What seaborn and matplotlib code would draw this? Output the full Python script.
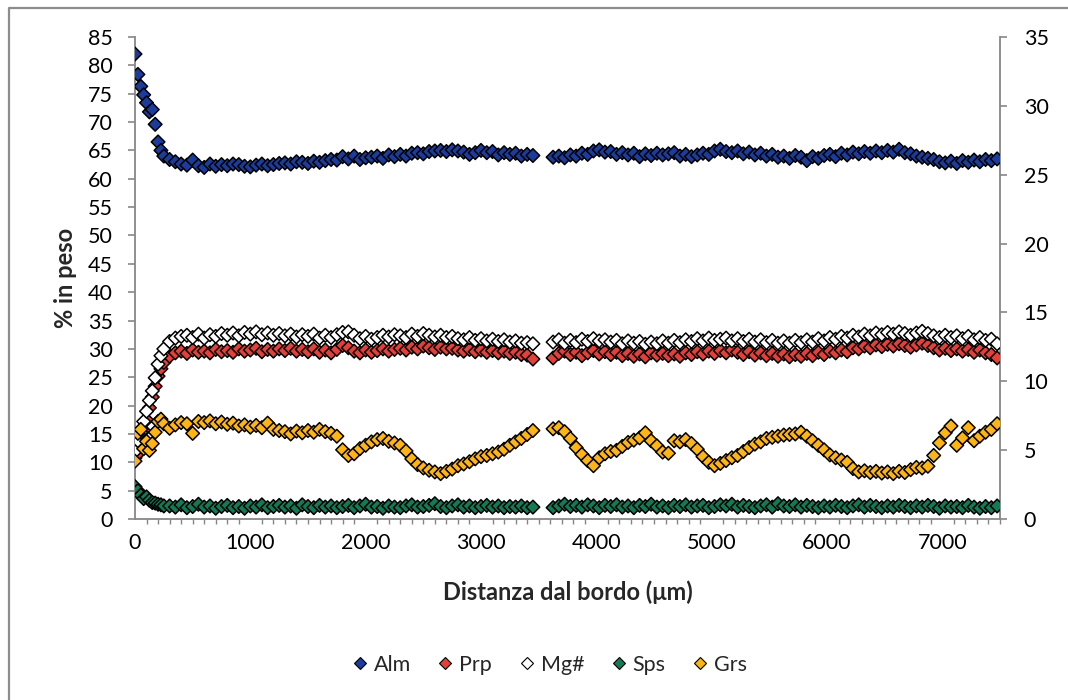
import numpy as np
import pandas as pd
import matplotlib
matplotlib.use("Agg")
import matplotlib.pyplot as plt
from matplotlib.lines import Line2D
from matplotlib.ticker import MultipleLocator
import seaborn as sns

# ---------------- data ----------------
# distance from rim (µm): first segment (dense at the start) and second segment
x_seg1 = np.concatenate([np.arange(0, 251, 25), np.arange(300, 3451, 50)])
x_seg2 = np.arange(3625, 7476, 50)

alm_seg1 = [82.0, 78.4, 76.3, 74.8, 73.4, 71.8, 72.2, 69.6, 66.5, 65.0, 64.0,
            63.4, 63.0, 62.6, 62.4, 63.3, 62.3, 62.0, 62.6, 62.2, 62.5,
            62.3, 62.6, 62.5, 62.2, 62.1, 62.4, 62.6, 62.3, 62.5, 62.7,
            62.8, 62.6, 63.0, 62.9, 62.7, 63.1, 62.9, 63.2, 63.4, 63.3,
            63.9, 63.5, 64.0, 63.4, 63.7, 63.8, 64.0, 63.6, 64.2, 63.9,
            64.3, 64.0, 64.5, 64.6, 64.4, 64.8, 64.9, 65.0, 64.8, 65.1,
            64.9, 64.7, 64.3, 64.6, 65.0, 64.6, 64.8, 64.2, 64.6, 64.3,
            64.5, 64.0, 64.3, 64.1]
alm_seg2 = [63.8, 64.0, 63.7, 64.2, 64.0, 64.5, 64.3, 64.9, 65.1, 64.7,
            64.8, 64.3, 64.6, 64.2, 64.5, 63.9, 64.4, 64.1, 64.5, 64.2,
            64.4, 64.6, 64.0, 64.3, 63.9, 64.2, 64.5, 64.3, 64.9, 65.2,
            64.8, 64.6, 64.9, 64.4, 64.7, 64.2, 64.5, 64.0, 64.3, 63.8,
            64.0, 63.6, 64.1, 63.8, 63.2, 63.9, 63.6, 64.1, 64.3, 63.9,
            64.5, 64.2, 64.7, 64.4, 64.8, 64.5, 64.9, 64.6, 65.0, 64.7,
            65.2, 64.6, 64.4, 64.0, 63.8, 63.6, 63.4, 63.0, 62.8, 63.1,
            62.7, 63.2, 62.9, 63.3, 63.0, 63.4, 63.2, 63.5]

prp_seg1 = [10.8, 11.5, 12.8, 15.6, 17.5, 19.6, 21.5, 23.4, 25.2, 26.5, 27.6,
            28.7, 29.3, 29.6, 29.2, 29.8, 29.4, 29.6, 29.3, 29.9, 29.5,
            29.7, 29.4, 30.0, 29.6, 29.8, 30.1, 29.5, 29.9, 29.6, 30.0,
            29.7, 30.1, 29.6, 29.9, 29.5, 30.0, 29.4, 29.8, 29.3, 29.9,
            30.6, 30.2, 29.6, 29.3, 29.8, 29.4, 29.7, 30.0, 29.6, 29.9,
            30.1, 29.8, 30.3, 30.0, 30.5, 30.2, 29.9, 30.3, 30.0, 30.1,
            29.8, 29.6, 29.9, 29.5, 29.8, 29.4, 29.7, 29.3, 29.6, 29.2,
            29.4, 29.0, 28.9, 28.2]
prp_seg2 = [28.4, 29.2, 29.6, 29.0, 29.4, 28.8, 29.3, 29.7, 29.1, 29.5,
            29.0, 29.4, 28.8, 29.2, 28.7, 29.1, 28.6, 29.3, 28.9, 29.2,
            28.8, 29.1, 28.7, 29.3, 29.0, 29.5, 29.1, 29.6, 29.2, 29.7,
            29.3, 29.8, 29.4, 29.0, 29.5, 28.9, 29.3, 28.8, 29.2, 28.7,
            29.1, 28.6, 29.0, 28.7, 29.2, 28.8, 29.4, 29.0, 29.6, 29.3,
            29.8, 29.5, 30.2, 30.0, 30.5, 30.2, 30.7, 30.4, 30.8, 30.5,
            30.9, 30.6, 30.3, 30.7, 31.0, 30.6, 30.2, 29.8, 30.1, 29.7,
            30.0, 29.6, 29.9, 29.4, 29.8, 29.3, 29.0, 28.4]

mg_seg1 = [11.9, 13.8, 15.3, 17.2, 19.0, 20.9, 22.6, 24.9, 27.3, 28.8, 30.0,
           31.3, 31.9, 32.2, 32.4, 32.0, 32.6, 31.9, 32.5, 32.2, 32.7,
           32.4, 32.8, 32.3, 32.9, 32.6, 33.0, 32.5, 32.8, 32.4, 32.7,
           32.3, 32.6, 32.1, 32.5, 32.2, 32.6, 31.9, 32.4, 32.0, 32.5,
           32.9, 33.0, 32.4, 31.8, 32.2, 31.7, 32.0, 32.4, 32.1, 32.5,
           32.3, 32.0, 32.6, 32.2, 32.7, 32.4, 32.1, 32.4, 32.0, 32.2,
           31.8, 31.6, 32.0, 31.5, 31.8, 31.4, 31.7, 31.3, 31.6, 31.2,
           31.4, 31.0, 31.1, 30.9]
mg_seg2 = [31.2, 31.6, 31.0, 31.5, 31.1, 31.7, 31.3, 31.8, 31.4, 31.6,
           31.2, 31.5, 30.9, 31.4, 31.0, 31.3, 30.8, 31.2, 30.9, 31.4,
           31.0, 31.5, 31.1, 31.6, 31.3, 31.8, 31.4, 31.9, 31.5, 31.7,
           31.9, 31.4, 31.8, 31.3, 31.7, 31.2, 31.6, 31.1, 31.5, 31.0,
           31.4, 31.0, 31.5, 31.1, 31.6, 31.2, 31.8, 31.4, 32.0, 31.7,
           32.2, 31.9, 32.4, 32.1, 32.6, 32.3, 32.8, 32.5, 32.9, 32.6,
           33.0, 32.7, 32.4, 32.8, 33.1, 32.7, 32.3, 32.0, 32.4, 32.0,
           32.3, 31.8, 32.2, 31.6, 32.0, 31.5, 31.7, 30.9]

sps_seg1 = [5.7, 5.0, 4.2, 3.6, 3.9, 3.3, 2.9, 2.8, 2.6, 2.5, 2.3,
            2.3, 2.1, 2.5, 2.0, 2.2, 2.6, 2.1, 2.3, 1.9, 2.2,
            2.4, 2.0, 2.2, 1.9, 2.3, 2.1, 2.5, 2.0, 2.2, 2.4,
            2.1, 2.3, 1.9, 2.5, 2.2, 2.0, 2.4, 2.1, 2.3, 2.0,
            2.2, 2.4, 2.0, 2.3, 2.6, 2.1, 2.2, 1.9, 2.3, 2.1,
            2.0, 2.3, 2.5, 2.1, 2.2, 2.4, 2.7, 2.2, 2.0, 2.3,
            2.5, 2.1, 2.3, 2.0, 2.2, 2.4, 2.1, 2.3, 2.0, 2.2,
            2.1, 2.3, 2.0, 2.1]
sps_seg2 = [2.0, 2.3, 2.6, 2.2, 2.4, 2.1, 2.5, 2.3, 2.0, 2.4,
            2.2, 2.5, 2.1, 2.3, 2.0, 2.4, 2.2, 2.6, 2.1, 2.3,
            2.0, 2.4, 2.2, 2.5, 2.1, 2.3, 2.4, 2.0, 2.2, 2.5,
            2.3, 2.6, 2.1, 2.4, 2.2, 2.0, 2.3, 2.5, 2.1, 2.7,
            2.3, 2.2, 2.5, 2.1, 2.4, 2.2, 2.0, 2.3, 2.1, 2.4,
            2.2, 2.0, 2.3, 2.5, 2.1, 2.4, 2.2, 2.0, 2.3, 2.1,
            2.4, 2.2, 2.0, 2.3, 2.1, 2.4, 2.2, 1.9, 2.3, 2.1,
            2.2, 2.0, 2.4, 2.1, 1.9, 2.2, 2.0, 2.3]

grs_seg1 = [10.2, 15.1, 15.8, 12.4, 13.7, 12.1, 13.3, 15.3, 17.2, 17.6, 16.8,
            16.0, 16.6, 17.0, 16.8, 15.1, 17.2, 17.0, 17.3, 16.8, 17.1,
            16.7, 16.9, 16.4, 16.6, 16.2, 16.5, 16.1, 16.9, 15.8, 15.6,
            15.4, 15.0, 15.5, 15.2, 15.6, 15.3, 15.8, 15.4, 15.1, 14.6,
            12.2, 11.2, 11.5, 12.4, 13.0, 13.6, 14.0, 14.2, 13.7, 13.4,
            13.0, 12.0, 10.6, 9.6, 9.0, 8.6, 8.3, 8.0, 8.4, 8.8,
            9.4, 9.7, 10.1, 10.6, 11.0, 11.2, 11.5, 11.8, 12.3, 13.0,
            13.6, 14.2, 14.9, 15.6]
grs_seg2 = [15.9, 16.1, 15.4, 14.2, 12.6, 11.4, 10.3, 9.4, 10.8, 11.5,
            11.9, 12.1, 12.8, 13.5, 13.9, 14.3, 15.2, 13.8, 12.9, 11.8,
            11.6, 13.8, 13.6, 14.0, 13.3, 12.3, 11.0, 10.0, 9.4, 9.8,
            10.3, 10.8, 11.2, 11.9, 12.6, 13.2, 13.6, 14.2, 14.4, 14.6,
            14.8, 14.9, 15.0, 15.3, 14.6, 13.8, 13.0, 12.2, 11.3, 10.8,
            10.4, 10.0, 8.9, 8.3, 8.5, 8.2, 8.4, 8.1, 8.3, 8.0,
            8.4, 8.2, 8.7, 9.1, 9.0, 9.3, 11.2, 13.4, 15.2, 16.4,
            13.0, 14.3, 16.1, 13.8, 14.6, 15.3, 15.8, 16.8]

series_names = ["Alm", "Prp", "Mg#", "Sps", "Grs"]
series_colors = ["#1B3C9A", "#E3403A", "#FFFFFF", "#137A56", "#FDB515"]

x_ticks = [0, 1000, 2000, 3000, 4000, 5000, 6000, 7000]
y_ticks_left = list(range(0, 86, 5))
y_ticks_right = list(range(0, 36, 5))

# --------------- build long table ---------------
xs = np.concatenate([x_seg1, x_seg2])
values = {
    "Alm": alm_seg1 + alm_seg2,
    "Prp": prp_seg1 + prp_seg2,
    "Mg#": mg_seg1 + mg_seg2,
    "Sps": sps_seg1 + sps_seg2,
    "Grs": grs_seg1 + grs_seg2,
}
frames = [pd.DataFrame({"dist": xs, "val": values[n], "serie": n}) for n in series_names]
df = pd.concat(frames, ignore_index=True)

# --------------- figure ---------------
sns.set_theme(style="white")
plt.rcParams["font.family"] = ["Lato", "DejaVu Sans"]

W, H = 1068, 700
fig = plt.figure(figsize=(W / 100, H / 100), dpi=100)
fig.patch.set_facecolor("white")
left, right, top, bottom = 135, 1000, 37, 519
ax = fig.add_axes([left / W, 1 - bottom / H, (right - left) / W, (bottom - top) / H])

palette = dict(zip(series_names, series_colors))
sns.scatterplot(data=df, x="dist", y="val", hue="serie", hue_order=series_names,
                palette=palette, marker="D", s=48, edgecolor="black",
                linewidth=1.1, legend=False, ax=ax, zorder=3)

FS = 15.5
gray = "#878787"
ax.set_xlim(0, 7500)
ax.set_ylim(0, 85)
ax.set_xticks(x_ticks)
ax.set_xticklabels([str(t) for t in x_ticks])
ax.xaxis.set_minor_locator(MultipleLocator(100))
ax.set_yticks(y_ticks_left)
ax.set_yticklabels([str(t) for t in y_ticks_left])
for s in ["left", "bottom", "right"]:
    ax.spines[s].set_color(gray)
    ax.spines[s].set_linewidth(1.3)
ax.spines["top"].set_visible(False)
ax.tick_params(axis="x", which="major", direction="out", length=6, width=1.2,
               color=gray, labelsize=FS, pad=4, labelcolor="black")
ax.tick_params(axis="x", which="minor", direction="out", length=3.5, width=1.0,
               color=gray, bottom=True)
ax.tick_params(axis="y", which="major", direction="out", length=5, width=1.2,
               color=gray, labelsize=FS, pad=11, labelcolor="black", left=True)
ax.grid(False)
ax.set_xlabel("Distanza dal bordo (μm)", fontsize=17, fontweight="bold", labelpad=20)
ax.set_ylabel("% in peso", fontsize=17, fontweight="bold", labelpad=8)

ax2 = ax.twinx()
ax2.set_ylim(0, 35)
ax2.set_yticks(y_ticks_right)
ax2.set_yticklabels([str(t) for t in y_ticks_right])
for s in ["left", "bottom", "right", "top"]:
    ax2.spines[s].set_visible(False)
ax2.tick_params(axis="y", which="major", direction="out", length=5, width=1.2,
                color=gray, labelsize=FS, pad=12, labelcolor="black", right=True)
ax2.grid(False)

handles = [Line2D([0], [0], marker="D", linestyle="none", markersize=6,
                  markerfacecolor=c, markeredgecolor="black", markeredgewidth=0.8)
           for c in series_colors]
fig.legend(handles, series_names, loc="center", bbox_to_anchor=(548 / W, 1 - 665 / H),
           ncol=5, frameon=False, fontsize=FS, handletextpad=0.15,
           columnspacing=1.1, handlelength=1.0)

# outer chart border (left and top visible)
fig.add_artist(Line2D([9 / W, 9 / W, 1.0], [0.0, 1 - 8 / H, 1 - 8 / H],
                      transform=fig.transFigure, color="#8C8C8C", linewidth=1.6))

fig.savefig("out.png", dpi=100, facecolor="white")
